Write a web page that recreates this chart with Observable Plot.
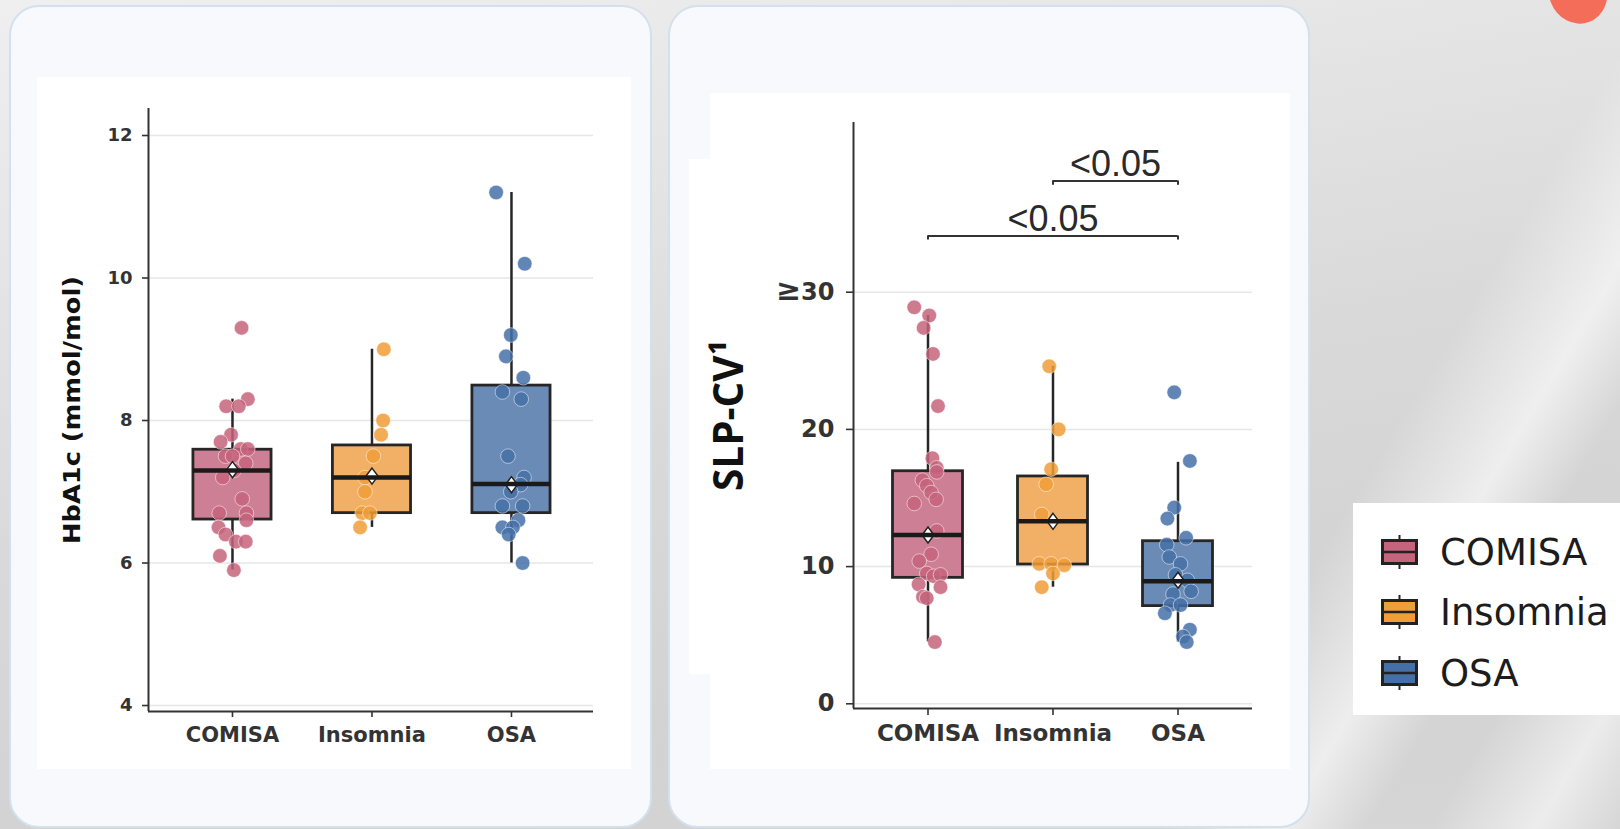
<!DOCTYPE html>
<html>
<head>
<meta charset="utf-8">
<script src="https://cdn.jsdelivr.net/npm/d3@7"></script>
<script src="https://cdn.jsdelivr.net/npm/@observablehq/plot@0.6"></script>
<style>
  html, body { margin: 0; padding: 0; }
  #page {
    position: relative; width: 1620px; height: 829px; overflow: hidden;
    background:
      linear-gradient(121deg, rgba(255,255,255,0) 78%, rgba(255,255,255,0.6) 84%, rgba(255,255,255,0) 88%, rgba(255,255,255,0) 91%, rgba(255,255,255,0.55) 96%, rgba(255,255,255,0) 100%),
      linear-gradient(170deg, #efefef 0%, #e6e6e6 22%, #d9d9d9 50%, #d2d2d2 78%, #d6d6d6 100%);
  }
  .card { position: absolute; box-sizing: border-box; border: 2px solid #d3e0ed; border-radius: 30px; background: #f7f9fd; }
  .plotbox { position: absolute; }
  .plotbox svg { display: block; max-width: none; }
  #blob { position: absolute; left: 1549px; top: -40px; width: 58px; height: 64px; border-radius: 50%; background: #f36d58; transform: rotate(-20deg); }
  #legend { position: absolute; left: 1353px; top: 503px; width: 267px; height: 212px; background: #fff; }
  .lg-row { position: absolute; left: 28px; height: 40px; display: flex; align-items: center;
            font-family: "DejaVu Sans", sans-serif; font-size: 37px; color: #1c1c1c; white-space: nowrap; }
  .lg-row svg { margin-right: 22px; }
</style>
</head>
<body>
<div id="page">
  <div id="blob"></div>
  <div class="card" style="left:9px;top:5px;width:643px;height:823px;"></div>
  <div class="card" style="left:668px;top:5px;width:642px;height:823px;"></div>
  <div style="position:absolute;left:689px;top:159px;width:21px;height:515px;background:#fff;"></div>
  <div class="plotbox" id="left" style="left:37px;top:77px;"></div>
  <div class="plotbox" id="right" style="left:710px;top:93px;"></div>
  <div id="legend"></div>
</div>
<script>
// ---------- shared ----------
const categories = ["COMISA", "Insomnia", "OSA"];
const pointColors = ["#c6647d", "#f09e38", "#4570a7"];
const boxColors = ["#cd8095", "#f2b067", "#6b8bb7"];

// ---------- HbA1c panel ----------
const hba1cTicks = [4, 6, 8, 10, 12];
const hba1cComisa = [9.3, 8.3, 8.2, 8.2, 7.8, 7.7, 7.6, 7.6, 7.5, 7.5, 7.4, 7.3, 7.2, 6.9, 6.7, 6.7, 6.6, 6.5, 6.4, 6.3, 6.3, 6.1, 5.9];
const hba1cComisaJitter = [0.065, 0.11, -0.045, 0.045, -0.01, -0.085, 0.06, 0.11, -0.05, 0, 0.095, 0.01, -0.07, 0.07, -0.095, 0.1, 0.1, -0.1, -0.05, 0.025, 0.095, -0.09, 0.01];
const hba1cInsomnia = [9.0, 8.0, 7.8, 7.5, 7.2, 7.0, 6.7, 6.7, 6.5];
const hba1cInsomniaJitter = [0.085, 0.08, 0.065, 0.01, -0.05, -0.05, -0.07, -0.015, -0.085];
const hba1cOsa = [11.2, 10.2, 9.2, 8.9, 8.6, 8.4, 8.3, 7.5, 7.2, 7.1, 7.0, 6.8, 6.8, 6.6, 6.5, 6.5, 6.4, 6.0];
const hba1cOsaJitter = [-0.11, 0.095, -0.005, -0.04, 0.085, -0.065, 0.07, -0.025, 0.09, 0.065, -0.005, -0.065, 0.08, 0.05, -0.065, 0.01, -0.02, 0.08];
const hba1cQ1 = [6.61, 6.70, 6.70];
const hba1cMedian = [7.30, 7.20, 7.11];
const hba1cQ3 = [7.59, 7.65, 8.49];
const hba1cLow = [5.9, 6.5, 6.0];
const hba1cHigh = [8.3, 9.0, 11.2];
const hba1cMean = [7.31, 7.22, 7.10];

// ---------- SLP-CV panel ----------
const slpTicks = [0, 10, 20, 30];
const slpTickLabels = ["0", "10", "20", "≥30"];
const slpComisa = [28.9, 28.3, 27.4, 25.5, 21.7, 17.9, 17.2, 16.9, 16.3, 15.9, 15.4, 14.9, 14.6, 12.6, 10.9, 10.4, 9.5, 9.3, 9.4, 8.7, 8.5, 7.8, 7.7, 4.5];
const slpComisaJitter = [-0.11, 0.01, -0.035, 0.04, 0.08, 0.035, 0.07, 0.07, -0.045, -0.01, 0.025, 0.065, -0.11, 0.07, 0.025, -0.07, -0.01, 0.045, 0.1, -0.075, 0.1, -0.04, -0.01, 0.055];
const slpInsomnia = [24.6, 20.0, 17.1, 16.0, 13.8, 10.2, 10.2, 10.1, 9.5, 8.5];
const slpInsomniaJitter = [-0.03, 0.045, -0.015, -0.055, -0.09, -0.11, -0.015, 0.09, 0, -0.09];
const slpOsa = [22.7, 17.7, 14.3, 13.5, 12.1, 11.6, 10.7, 10.2, 9.4, 9.0, 8.2, 8.0, 7.2, 7.2, 6.6, 5.4, 4.9, 4.5];
const slpOsaJitter = [-0.03, 0.095, -0.03, -0.085, 0.065, -0.09, -0.07, 0.02, -0.02, 0.075, 0.105, -0.04, -0.06, 0.02, -0.105, 0.095, 0.04, 0.07];
const slpQ1 = [9.18, 10.15, 7.12];
const slpMedian = [12.3, 13.3, 8.94];
const slpQ3 = [16.95, 16.57, 11.85];
const slpLow = [4.5, 8.5, 4.5];
const slpHigh = [28.3, 24.6, 17.6];
const slpMean = [12.3, 13.3, 9.0];

// significance brackets
const compFrom = ["Insomnia", "COMISA"];
const compTo = ["OSA", "OSA"];
const compY = [38.1, 34.1];
const compLabels = ["<0.05", "<0.05"];

// ---------- builder ----------
const diamond = {
  draw(ctx) { ctx.moveTo(0, -8); ctx.lineTo(6, 0); ctx.lineTo(0, 8); ctx.lineTo(-6, 0); ctx.closePath(); }
};

function makePanel(cfg) {
  const hw = 0.28;
  const stats = categories.map((c, i) => ({
    i, c, q1: cfg.q1[i], med: cfg.med[i], q3: cfg.q3[i], lo: cfg.lo[i], hi: cfg.hi[i], mean: cfg.mean[i], fill: boxColors[i]
  }));
  const pts = cfg.values.flatMap((vals, i) => vals.map((v, k) => ({ i, v, j: cfg.jitter[i][k], fill: pointColors[i] })));
  const marks = [
    Plot.gridY(cfg.ticks, { stroke: "#e6e6e6", strokeOpacity: 1, strokeWidth: 1.5 }),
    Plot.ruleX(stats, { x: "i", y1: "lo", y2: "hi", stroke: "#262626", strokeWidth: 2.5 }),
    Plot.rectY(stats, { x1: d => d.i - hw, x2: d => d.i + hw, y1: "q1", y2: "q3", fill: "fill", stroke: "#262626", strokeWidth: 2.8 }),
    Plot.dot(pts, { x: d => d.i + d.j, y: "v", r: 7.3, fill: "fill", fillOpacity: 0.85, stroke: "#ffffff", strokeOpacity: 0.5, strokeWidth: 1 }),
    Plot.dot(stats, { x: "i", y: "mean", symbol: diamond, r: 6, fill: "#ffffff", stroke: "#222", strokeWidth: 1.5 }),
    Plot.ruleY(stats, { y: "med", x1: d => d.i - hw, x2: d => d.i + hw, stroke: "#1a1a1a", strokeWidth: 4.5 }),
    Plot.ruleX([cfg.xDomain[0]], { stroke: "#333", strokeWidth: 2 }),
    Plot.ruleY([cfg.yDomain[0]], { stroke: "#333", strokeWidth: 2 }),
    Plot.axisY(cfg.ticks, {
      tickSize: cfg.yTickSize, tickPadding: cfg.yTickPadding, tickFormat: cfg.tickFormat,
      fontSize: cfg.yFontSize, fontWeight: "bold", fontFamily: "DejaVu Sans", color: "#333", strokeWidth: 1.6, label: null
    }),
    Plot.axisX([0, 1, 2], {
      tickSize: cfg.xTickSize, tickPadding: cfg.xTickPadding, tickFormat: i => categories[i],
      fontSize: cfg.xFontSize, fontWeight: "bold", fontFamily: "DejaVu Sans", color: "#333", strokeWidth: 1.6, label: null
    }),
    Plot.text([cfg.label], {
      text: d => d, frameAnchor: "left", dx: cfg.labelDx, rotate: -90,
      fontSize: cfg.labelFontSize, fontWeight: "bold", fontFamily: cfg.labelFont, fill: "#111"
    }),
    ...(cfg.extra || [])
  ];
  const svg = Plot.plot({
    width: cfg.width, height: cfg.height,
    marginLeft: cfg.ml, marginRight: cfg.mr, marginTop: cfg.mt, marginBottom: cfg.mb,
    x: { type: "linear", domain: cfg.xDomain },
    y: { type: "linear", domain: cfg.yDomain },
    color: { type: "identity" },
    style: { background: "#ffffff", overflow: "visible" },
    marks
  });
  d3.select(svg).selectAll("text").filter(function () { return this.textContent === cfg.label; })
    .attr("text-anchor", "start").attr("x", -cfg.labelLength / 2)
    .attr("textLength", cfg.labelLength).attr("lengthAdjust", "spacingAndGlyphs");
  return svg;
}

// ---------- left panel ----------
const leftSvg = makePanel({
  width: 594, height: 692, ml: 111, mr: 38, mt: 31, mb: 58,
  xDomain: [-0.602, 2.588], yDomain: [3.916, 12.379],
  ticks: hba1cTicks, tickFormat: d => String(d),
  yTickSize: 6, yTickPadding: 10, yFontSize: 18,
  xTickSize: 6, xTickPadding: 10, xFontSize: 21,
  values: [hba1cComisa, hba1cInsomnia, hba1cOsa],
  jitter: [hba1cComisaJitter, hba1cInsomniaJitter, hba1cOsaJitter],
  q1: hba1cQ1, med: hba1cMedian, q3: hba1cQ3, lo: hba1cLow, hi: hba1cHigh, mean: hba1cMean,
  label: "HbA1c (mmol/mol)", labelDx: -75.5, labelFontSize: 23, labelFont: "DejaVu Sans", labelLength: 268
});
document.getElementById("left").appendChild(leftSvg);

// ---------- right panel ----------
const catIndex = c => categories.indexOf(c);
const brackets = compLabels.map((label, k) => ({ a: catIndex(compFrom[k]), b: catIndex(compTo[k]), y: compY[k], label }));
const bracketEnds = brackets.flatMap(d => [{ x: d.a, y: d.y }, { x: d.b, y: d.y }]);

const rightSvg = makePanel({
  width: 580, height: 676, ml: 143, mr: 38, mt: 29, mb: 61,
  xDomain: [-0.596, 2.596], yDomain: [-0.343, 42.37],
  ticks: slpTicks, tickFormat: d => slpTickLabels[slpTicks.indexOf(d)],
  yTickSize: 7, yTickPadding: 12, yFontSize: 24,
  xTickSize: 7, xTickPadding: 9, xFontSize: 23,
  values: [slpComisa, slpInsomnia, slpOsa],
  jitter: [slpComisaJitter, slpInsomniaJitter, slpOsaJitter],
  q1: slpQ1, med: slpMedian, q3: slpQ3, lo: slpLow, hi: slpHigh, mean: slpMean,
  label: "SLP-CV¹", labelDx: -124, labelFontSize: 41, labelFont: "Open Sans", labelLength: 151,
  extra: [
    Plot.ruleY(brackets, { y: "y", x1: "a", x2: "b", stroke: "#333", strokeWidth: 2 }),
    Plot.ruleX(bracketEnds, { x: "x", y1: "y", y2: d => d.y - 0.3, stroke: "#333", strokeWidth: 2 }),
    Plot.text(brackets, {
      x: d => (d.a + d.b) / 2, y: "y", text: "label", lineAnchor: "bottom", dy: -5,
      fontSize: 36, fontFamily: "Liberation Sans", fill: "#2a2a2a"
    })
  ]
});
// enlarge the "≥" sign of the top tick label, as in the reference
d3.select(rightSvg).selectAll("text").filter(function () { return this.textContent === "≥30"; })
  .each(function () {
    const t = d3.select(this);
    t.text(null);
    t.append("tspan").attr("font-size", 30).text("≥");
    t.append("tspan").text("30");
  });
document.getElementById("right").appendChild(rightSvg);

// ---------- legend ----------
const legend = d3.select("#legend");
const rowTops = [29, 89, 150];
categories.forEach((c, i) => {
  const row = legend.append("div").attr("class", "lg-row").style("top", rowTops[i] + "px");
  const s = row.append("svg").attr("width", 37).attr("height", 34);
  s.append("line").attr("x1", 18.5).attr("x2", 18.5).attr("y1", 0).attr("y2", 34).attr("stroke", "#222").attr("stroke-width", 2);
  s.append("rect").attr("x", 1.5).attr("y", 5.5).attr("width", 34).attr("height", 23)
    .attr("fill", pointColors[i]).attr("stroke", "#222").attr("stroke-width", 3);
  s.append("line").attr("x1", 1.5).attr("x2", 35.5).attr("y1", 17).attr("y2", 17).attr("stroke", "#222").attr("stroke-width", 2.5);
  row.append("span").text(c);
});
</script>
</body>
</html>
